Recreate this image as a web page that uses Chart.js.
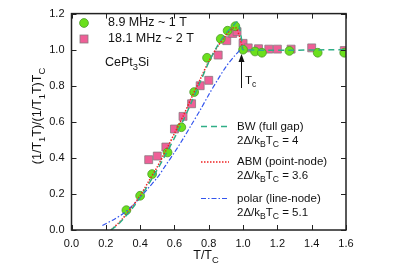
<!DOCTYPE html>
<html><head><meta charset="utf-8">
<script src="https://cdn.jsdelivr.net/npm/chart.js@4"></script>
<style>html,body{margin:0;padding:0;background:#fff}#wrap{width:409px;height:273px;position:relative}</style>
</head><body><div id="wrap"><canvas id="c" width="409" height="273"></canvas></div>
<script>
// Data
const xTicks = [0.0,0.2,0.4,0.6,0.8,1.0,1.2,1.4,1.6];
const yTicks = [0.0,0.2,0.4,0.6,0.8,1.0,1.2];
const green_T = [0.32,0.40,0.47,0.56,0.64,0.715,0.79,0.87,0.91,0.955,1.0,1.07,1.11,1.27,1.435,1.59];
const green_R = [0.11,0.19,0.31,0.43,0.57,0.765,0.955,1.06,1.105,1.13,1.0,0.99,0.983,0.993,0.983,0.983];
const pink_T = [0.45,0.50,0.55,0.60,0.65,0.70,0.75,0.80,0.855,0.905,0.94,0.965,1.0,1.03,1.09,1.15,1.20,1.28,1.40,1.59];
const pink_R = [0.39,0.41,0.46,0.56,0.63,0.70,0.80,0.83,0.97,1.05,1.09,1.10,1.035,1.01,1.005,1.003,1.003,1.003,1.01,0.995];
const bw_T = [0.23,0.27,0.30,0.35,0.40,0.45,0.50,0.55,0.60,0.65,0.70,0.75,0.80,0.85,0.90,0.94,0.965,0.98,0.995,1.0,1.6];
const bw_R = [0.0,0.03,0.06,0.115,0.18,0.255,0.335,0.42,0.51,0.605,0.71,0.82,0.93,1.02,1.09,1.13,1.155,1.12,1.03,1.0,1.0];
const abm_T = [0.23,0.27,0.30,0.35,0.40,0.45,0.50,0.55,0.60,0.65,0.70,0.75,0.80,0.85,0.90,0.94,0.96,0.98,1.0];
const abm_R = [0.0,0.035,0.065,0.125,0.19,0.27,0.35,0.44,0.535,0.63,0.735,0.835,0.935,1.015,1.08,1.12,1.12,1.07,1.0];
const polar_T = [0.18,0.25,0.30,0.35,0.40,0.45,0.50,0.55,0.60,0.65,0.70,0.75,0.80,0.85,0.90,0.95,0.985];
const polar_R = [0.025,0.06,0.09,0.13,0.18,0.235,0.29,0.36,0.43,0.505,0.585,0.665,0.75,0.83,0.905,0.965,1.0];

const zip = (a,b)=>a.map((v,i)=>({x:v,y:b[i]}));
const FONT = '"Liberation Sans", Arial, sans-serif';

function rich(ctx, segs, x, y, size, align){
  let w = 0;
  const meas = segs.map(([t,s])=>{ctx.font=(s?size*0.75:size)+'px '+FONT;const m=ctx.measureText(t).width;w+=m;return m;});
  let cx = align==='center'? x-w/2 : x;
  ctx.textAlign='left'; ctx.textBaseline='middle';
  segs.forEach(([t,s],i)=>{ctx.font=(s?size*0.75:size)+'px '+FONT;ctx.fillText(t,cx,y+(s?size*0.32:0));cx+=meas[i];});
}

const deco = {
  id:'deco',
  afterDraw(chart){
    const ctx = chart.ctx, a = chart.chartArea, xs = chart.scales.x, ys = chart.scales.y;
    ctx.save();
    ctx.strokeStyle='#222'; ctx.lineWidth=1;
    xTicks.forEach(v=>{const p=Math.round(xs.getPixelForValue(v))+0.5;
      ctx.beginPath();ctx.moveTo(p,a.bottom);ctx.lineTo(p,a.bottom-5);ctx.moveTo(p,a.top);ctx.lineTo(p,a.top+5);ctx.stroke();});
    yTicks.forEach(v=>{const p=Math.round(ys.getPixelForValue(v))+0.5;
      ctx.beginPath();ctx.moveTo(a.left,p);ctx.lineTo(a.left+5,p);ctx.moveTo(a.right,p);ctx.lineTo(a.right-5,p);ctx.stroke();});
    ctx.lineWidth=1.5; ctx.strokeStyle='#222';
    ctx.strokeRect(a.left,a.top,a.right-a.left,a.bottom-a.top);
    ctx.fillStyle='#111';
    ctx.save(); ctx.translate(38,116); ctx.rotate(-Math.PI/2);
    rich(ctx,[['(1/T',0],['1',1],['T)/(1/T',0],['1',1],['T)',0],['T',0],['C',1]],0,0,12.5,'center');
    ctx.restore();
    rich(ctx,[['T/T',0],['C',1]],206,256,12.5,'center');
    ctx.beginPath(); ctx.arc(84,23,4.4,0,Math.PI*2); ctx.fillStyle='#6be01c'; ctx.fill(); ctx.strokeStyle='#4c9a2a'; ctx.lineWidth=0.8; ctx.stroke();
    ctx.fillStyle='#ef5f97'; ctx.fillRect(80,35,8,8); ctx.strokeStyle='#8a7a80'; ctx.strokeRect(80,35,8,8);
    ctx.fillStyle='#111';
    rich(ctx,[['8.9 MHz ~ 1 T',0]],108,23,12.5,'left');
    rich(ctx,[['18.1 MHz ~ 2 T',0]],108,39,12.5,'left');
    rich(ctx,[['CePt',0],['3',1],['Si',0]],105,63,12.5,'left');
    const items=[
      {y:126.5,c:'#2fae86',d:[6,4],w:1.5,t:'BW (full gap)',v:'4'},
      {y:162,c:'#ee2222',d:[1.5,1.5],w:1.5,t:'ABM (point-node)',v:'3.6'},
      {y:198.5,c:'#3355ee',d:[5,2,1.5,2],w:1.2,t:'polar (line-node)',v:'5.1'}];
    items.forEach(it=>{
      ctx.setLineDash(it.d); ctx.strokeStyle=it.c; ctx.lineWidth=it.w;
      ctx.beginPath(); ctx.moveTo(201,it.y); ctx.lineTo(229,it.y); ctx.stroke(); ctx.setLineDash([]);
      ctx.fillStyle='#111';
      rich(ctx,[[it.t,0]],237,it.y,11.5,'left');
      rich(ctx,[['2\u0394/k',0],['B',1],['T',0],['C',1],[' = '+it.v,0]],237,it.y+14,11.5,'left');
    });
    ctx.strokeStyle='#111'; ctx.lineWidth=1;
    ctx.beginPath(); ctx.moveTo(241.5,88); ctx.lineTo(241.5,56); ctx.stroke();
    ctx.beginPath(); ctx.moveTo(241.5,54); ctx.lineTo(238.5,62); ctx.lineTo(244.5,62); ctx.closePath(); ctx.fillStyle='#111'; ctx.fill();
    rich(ctx,[['T',0],['c',1]],245,81,11.5,'left');
    ctx.restore();
  }
};

new Chart(document.getElementById('c'),{
  type:'scatter',
  data:{datasets:[
    {label:'bw',type:'line',data:zip(bw_T,bw_R),borderColor:'#2fae86',borderDash:[6,4],borderWidth:1.5,pointRadius:0,tension:0.3,fill:false,order:1},
    {label:'abm',type:'line',data:zip(abm_T,abm_R),borderColor:'#ee2222',borderDash:[1.5,1.5],borderWidth:1.5,pointRadius:0,tension:0.3,fill:false,order:1},
    {label:'polar',type:'line',data:zip(polar_T,polar_R),borderColor:'#3355ee',borderDash:[5,2,1.5,2],borderWidth:1.2,pointRadius:0,tension:0.3,fill:false,order:1},
    {label:'18.1 MHz',data:zip(pink_T,pink_R),pointStyle:'rect',pointRadius:5.6,backgroundColor:'#ef5f97',borderColor:'#8a7a80',borderWidth:0.8,order:3},
    {label:'8.9 MHz',data:zip(green_T,green_R),pointStyle:'circle',pointRadius:4.4,backgroundColor:'#6be01c',borderColor:'#4c9a2a',borderWidth:0.8,order:2}
  ]},
  plugins:[deco],
  options:{
    responsive:false,animation:false,events:[],
    layout:{padding:{left:0,right:63,top:13,bottom:0}},
    plugins:{legend:{display:false},tooltip:{enabled:false}},
    scales:{
      x:{type:'linear',min:0,max:1.6,
        afterBuildTicks:s=>{s.ticks=xTicks.map(v=>({value:v}));},
        afterFit:s=>{s.height=43;},
        grid:{display:false,drawTicks:false},border:{display:false},
        ticks:{padding:7,color:'#111',font:{size:11,family:FONT},callback:v=>Number(v).toFixed(1)}},
      y:{type:'linear',min:0,max:1.2,
        afterBuildTicks:s=>{s.ticks=yTicks.map(v=>({value:v}));},
        afterFit:s=>{s.width=71.5;},
        grid:{display:false,drawTicks:false},border:{display:false},
        ticks:{padding:7,color:'#111',font:{size:11,family:FONT},callback:v=>Number(v).toFixed(1)}}
    }
  }
});
</script></body></html>
